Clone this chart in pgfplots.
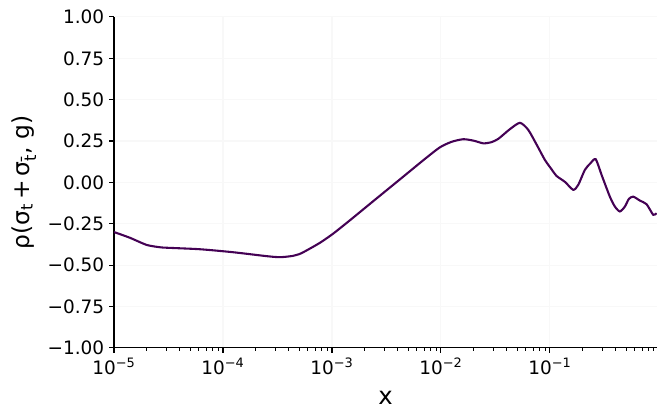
\documentclass[border=0pt]{standalone}
\usepackage{fontspec}
\setmainfont{DejaVu Sans}
\usepackage{pgfplots}
\pgfplotsset{compat=1.18}
\definecolor{vir}{HTML}{440154}
\definecolor{gridc}{HTML}{F8F8F8}
\begin{document}
\begin{tikzpicture}
\begin{axis}[
  name=ax,
  scale only axis,
  width=391pt, height=238.3pt,
  xmode=log,
  xmin=1e-5, xmax=0.96,
  ymin=-1, ymax=1,
  axis x line*=bottom, axis y line*=left,
  axis line style={-, line width=0.8pt},
  tick align=outside,
  major tick length=3.5pt, minor tick length=2pt,
  every tick/.style={black, line width=0.8pt},
  minor tick style={black, line width=0.6pt},
  xtick={1e-5,1e-4,1e-3,1e-2,1e-1},
  xticklabels={10\textsuperscript{−5},10\textsuperscript{−4},10\textsuperscript{−3},10\textsuperscript{−2},10\textsuperscript{−1}},
  minor xtick={2e-5,3e-5,4e-5,5e-5,6e-5,7e-5,8e-5,9e-5,
               2e-4,3e-4,4e-4,5e-4,6e-4,7e-4,8e-4,9e-4,
               2e-3,3e-3,4e-3,5e-3,6e-3,7e-3,8e-3,9e-3,
               2e-2,3e-2,4e-2,5e-2,6e-2,7e-2,8e-2,9e-2,
               0.2,0.3,0.4,0.5,0.6,0.7,0.8,0.9},
  ytick={-1,-0.75,-0.5,-0.25,0,0.25,0.5,0.75,1},
  yticklabels={−1.00,−0.75,−0.50,−0.25,0.00,0.25,0.50,0.75,1.00},
  ticklabel style={font=\fontsize{13.3}{16}\selectfont},
  xmajorgrids, ymajorgrids,
  major grid style={gridc, line width=0.8pt},
  xlabel={x},
  ylabel={ρ(σ\textsubscript{t}\,+\,σ\textsubscript{t̄}, g)},
  xlabel style={font=\fontsize{17.5}{20}\selectfont, yshift=-5pt},
  ylabel style={font=\fontsize{16.8}{20}\selectfont, yshift=1.5pt},
]
\addplot[vir, line width=1.5pt, smooth, tension=0.4] coordinates {
(1.0e-5,-0.300)
(1.403e-5,-0.335)
(1.995e-5,-0.378)
(2.642e-5,-0.392)
(3.062e-5,-0.395)
(6.15e-5,-0.404)
(1.236e-4,-0.422)
(2.535e-4,-0.446)
(3.334e-4,-0.452)
(4.3e-4,-0.445)
(5.08e-4,-0.432)
(5.9e-4,-0.410)
(7.76e-4,-0.365)
(1.02e-3,-0.311)
(1.462e-3,-0.229)
(2.48e-3,-0.105)
(4.2e-3,0.018)
(7.13e-3,0.142)
(9.79e-3,0.212)
(1.25e-2,0.245)
(1.603e-2,0.261)
(2.0e-2,0.252)
(2.45e-2,0.236)
(2.9e-2,0.243)
(3.357e-2,0.263)
(4.3e-2,0.322)
(5.31e-2,0.360)
(6.32e-2,0.318)
(7.6e-2,0.225)
(8.99e-2,0.136)
(1.02e-1,0.085)
(1.151e-1,0.039)
(1.374e-1,0.003)
(1.637e-1,-0.045)
(1.82e-1,-0.015)
(2.094e-1,0.076)
(2.35e-1,0.115)
(2.63e-1,0.140)
(3.0e-1,0.040)
(3.548e-1,-0.086)
(3.945e-1,-0.146)
(4.385e-1,-0.176)
(4.875e-1,-0.146)
(5.3e-1,-0.100)
(5.808e-1,-0.086)
(6.699e-1,-0.110)
(7.709e-1,-0.132)
(8.872e-1,-0.196)
(9.528e-1,-0.186)
};
\end{axis}
\pgfresetboundingbox
\path[use as bounding box] ([xshift=-82.1pt,yshift=-51.1pt]ax.south west) rectangle ([xshift=6.5pt,yshift=12.2pt]ax.north east);
\end{tikzpicture}
\end{document}
